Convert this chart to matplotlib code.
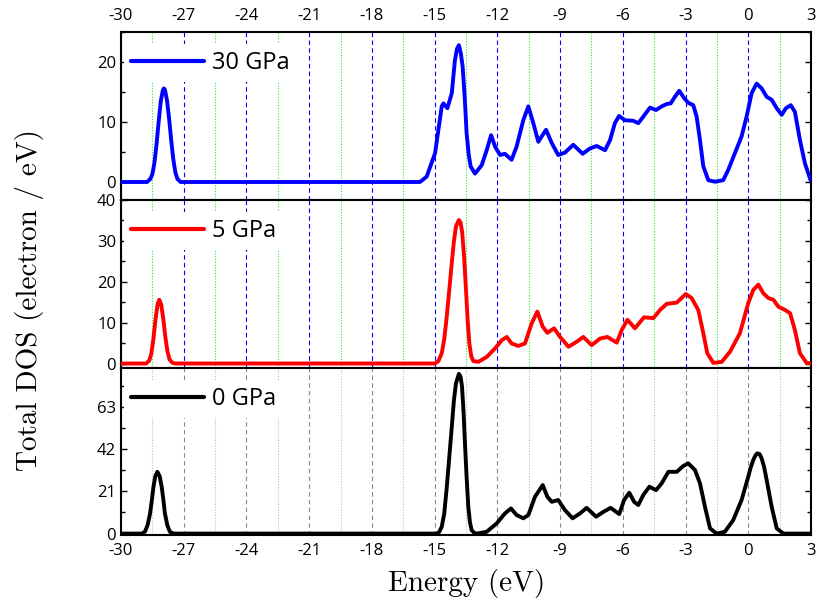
import matplotlib
matplotlib.use("Agg")
import matplotlib.pyplot as plt
from matplotlib.ticker import MultipleLocator
import numpy as np

plt.rcParams['font.family'] = ['Open Sans', 'DejaVu Sans']
plt.rcParams['axes.unicode_minus'] = False

# 30 GPa
energy_30 = [-30, -28.75, -28.6, -28.5, -28.4, -28.3, -28.2, -28.1, -28.0, -27.95, -27.9, -27.8,
             -27.7, -27.6, -27.5, -27.4, -27.3, -27.15,
             -15.7, -15.38, -14.98, -14.66, -14.58, -14.39, -14.18, -14.03, -13.93, -13.84,
             -13.75, -13.66, -13.56, -13.47, -13.37, -13.28, -13.07, -12.75, -12.51, -12.30,
             -12.11, -11.87, -11.64, -11.32,
             -11.08, -10.76, -10.52, -10.28, -10.04, -9.88, -9.67, -9.40, -9.09, -8.77, -8.37,
             -7.92, -7.57, -7.25, -6.85, -6.61, -6.38, -6.18, -5.90, -5.50, -5.26, -5.02, -4.70,
             -4.41, -4.14, -3.90, -3.71, -3.51, -3.30, -3.07, -2.87, -2.63, -2.47, -2.31, -2.15,
             -1.91, -1.59, -1.20, -0.96, -0.64, -0.32, -0.08, 0.16, 0.40, 0.64, 0.88, 1.12, 1.36,
             1.60, 1.80, 2.03, 2.23, 2.47, 2.71, 2.98, 3.0]
dos_30 = [0, 0, 0.5, 1.3, 3.2, 6.3, 10.0, 13.4, 15.3, 15.6, 15.4, 13.6,
          10.6, 7.0, 3.8, 1.6, 0.5, 0,
          0, 0.9, 4.8, 12.6, 13.1, 12.3, 14.8, 20.3, 22.2, 22.8,
          21.5, 19.2, 14.0, 8.1, 4.6, 2.6, 1.4, 2.8, 5.3, 7.8,
          5.9, 4.5, 4.7, 3.7,
          5.9, 10.3, 12.6, 9.8, 6.7, 7.6, 8.7, 6.5, 4.5, 4.9, 6.2,
          4.7, 5.6, 6.0, 5.3, 7.0, 9.8, 11.0, 10.3, 10.2, 9.8, 10.9, 12.4,
          12.0, 12.6, 13.0, 13.1, 14.2, 15.2, 14.0, 13.2, 12.8, 10.9, 7.0, 2.6,
          0.3, 0.05, 0.3, 2.0, 4.8, 7.6, 10.9, 14.8, 16.4, 15.6, 14.2, 13.7, 12.3,
          11.2, 12.3, 12.8, 11.7, 7.0, 3.1, 0.3, 0.2]

# 5 GPa
energy_5 = [-30, -28.8, -28.65, -28.55, -28.45, -28.35, -28.25, -28.17, -28.08, -27.98, -27.88,
            -27.78, -27.68, -27.55, -27.4,
            -14.98, -14.82, -14.66, -14.54, -14.42, -14.30, -14.18, -14.08, -13.98, -13.84,
            -13.76, -13.68, -13.59, -13.50, -13.42, -13.34, -13.25, -13.15,
            -12.91, -12.51, -12.11, -11.79, -11.55, -11.32, -11.00, -10.68, -10.36, -10.09,
            -9.83, -9.61, -9.29, -9.00, -8.60, -8.21, -7.89, -7.49, -7.09, -6.74, -6.29, -6.05,
            -5.78, -5.42, -4.99, -4.54, -4.22, -3.90, -3.42, -2.99, -2.71, -2.39, -2.15, -1.96,
            -1.67, -1.27, -0.87, -0.40, 0.00, 0.24, 0.48, 0.72, 0.96, 1.20, 1.44, 1.76, 2.00,
            2.23, 2.47, 2.79, 3.0]
dos_5 = [0, 0, 0.7, 2.4, 6.0, 10.8, 14.5, 15.6, 14.5, 11.0, 6.5,
         3.0, 1.0, 0.2, 0,
         0, 0.6, 2.5, 6.0, 11.5, 18.0, 24.6, 29.8, 33.6, 35.1,
         34.5, 32.0, 26.0, 18.0, 10.5, 4.9, 1.8, 0.6,
         0.4, 1.6, 3.7, 5.7, 6.5, 4.9, 4.3, 4.9, 9.8, 12.7,
         9.0, 7.5, 8.6, 6.5, 4.1, 5.3, 6.5, 4.5, 6.1, 6.5, 5.1, 8.2,
         10.7, 8.6, 11.3, 11.1, 13.1, 14.6, 14.9, 17.0, 16.0, 13.1, 7.4, 2.5,
         0.15, 0.4, 2.9, 7.4, 14.8, 18.0, 19.3, 17.2, 16.0, 15.6, 13.9, 13.1, 12.3,
         8.2, 2.5, 0.15, 0]

# 0 GPa
energy_0 = [-30, -29.0, -28.85, -28.72, -28.61, -28.52, -28.45, -28.36, -28.26, -28.15, -28.05,
            -27.97, -27.9, -27.78, -27.66, -27.5,
            -14.90, -14.78, -14.66, -14.54, -14.42, -14.30, -14.18, -14.08, -13.98, -13.84,
            -13.76, -13.69, -13.62, -13.55, -13.47, -13.39, -13.31, -13.23, -13.1, -12.99,
            -12.51, -12.03, -11.64, -11.35, -11.08, -10.76, -10.52, -10.20, -9.83,
            -9.61, -9.40, -9.09, -8.77, -8.40, -8.05, -7.73, -7.28, -6.93, -6.58, -6.17, -5.94,
            -5.69, -5.46, -5.26, -5.02, -4.73, -4.41, -4.14, -3.82, -3.42, -3.11, -2.87, -2.55,
            -2.31, -2.07, -1.83, -1.51, -1.12, -0.72, -0.32, 0.00, 0.12, 0.24, 0.34, 0.43, 0.54,
            0.64, 0.76, 0.88, 1.12, 1.36, 1.68, 3.0]
dos_0 = [0, 0, 1.0, 4.5, 10, 17, 23, 28.5, 30.7, 28.5, 23,
         16.5, 10, 4.0, 0.9, 0,
         0, 0.8, 3.4, 10, 23, 38, 53, 66, 74.7, 79.4,
         78, 73, 61, 44.9, 28, 13.3, 5.5, 1.7, 0.3, 0,
         0.9, 5.1, 10, 12.5, 9.2, 7.6, 9.2, 18.3, 24.1,
         18.3, 15.8, 16.7, 11.7, 7.6, 10.0, 12.8, 8.4, 10.8, 12.8, 9.7, 16.7,
         20.3, 15.8, 14.2, 19.2, 23.3, 21.6, 25, 30.7, 30.7, 33.6, 34.9, 31.6,
         25, 13.3, 2.6, 0, 0.9, 6.7, 16.7, 28.3, 33, 36.6, 38.8, 39.9, 39.5,
         37.4, 33, 26.6, 13.3, 2.6, 0, 0]

energy_ticks = np.arange(-30, 4, 3)

fig = plt.figure(figsize=(8.17, 6.05), dpi=100)
left, width = 121 / 817, 690 / 817
panels = [
    # (energy, dos, label, color, ylim, major, minor, grid colors, y range px)
    (energy_30, dos_30, '30 GPa', 'blue', (-3, 25), 10, 5, ('blue', '#33e033'), (32, 200)),
    (energy_5, dos_5, '5 GPa', 'red', (-1.1, 40), 10, 5, ('blue', '#33e033'), (200, 368)),
    (energy_0, dos_0, '0 GPa', 'black', (-0.7, 82.3), 21, 10.5, ('#888888', '#bbbbbb'), (368, 535)),
]

axes = []
for i, (en, dos, lab, col, ylim, maj, mnr, gcol, (ytop, ybot)) in enumerate(panels):
    ax = fig.add_axes([left, 1 - ybot / 605, width, (ybot - ytop) / 605])
    ax.plot(en, dos, color=col, lw=2.8, label=lab, solid_capstyle='round',
            solid_joinstyle='round', zorder=3)
    ax.set_xlim(-30, 3)
    ax.set_ylim(*ylim)
    ax.set_xticks(energy_ticks)
    ax.xaxis.set_minor_locator(MultipleLocator(1.5))
    ax.yaxis.set_major_locator(MultipleLocator(maj))
    ax.yaxis.set_minor_locator(MultipleLocator(mnr))
    ax.grid(which='major', axis='x', ls=(0, (4, 3)), color=gcol[0], lw=0.8)
    ax.grid(which='minor', axis='x', ls=(0, (1, 1.5)), color=gcol[1], lw=0.8)
    ax.tick_params(axis='x', which='both', length=0, labelsize=12, pad=6)
    ax.tick_params(axis='y', which='both', direction='in', left=True, right=True,
                   labelright=False, labelsize=12)
    ax.tick_params(axis='y', which='major', length=4, width=1)
    ax.tick_params(axis='y', which='minor', length=3, width=1)
    for s in ax.spines.values():
        s.set_linewidth(1.5)
    if i == 0:
        ax.xaxis.tick_top()
        ax.tick_params(axis='x', which='both', length=0)
    elif i == 1:
        ax.tick_params(axis='x', labelbottom=False)
    leg = ax.legend(loc='upper left', bbox_to_anchor=(0.004, 0.93), borderaxespad=0,
                    frameon=True, fancybox=False, edgecolor='none', facecolor='white',
                    framealpha=1, handlelength=3.1, handletextpad=0.35, fontsize=17,
                    borderpad=0.3)
    leg.set_zorder(5)
    for h in leg.get_lines():
        h.set_linewidth(3)
    axes.append(ax)

fig.text(30 / 817, 0.504, 'Total DOS (electron / eV)', family='cmr10', fontsize=21,
         rotation=90, ha='center', va='center')
fig.text(467 / 817, 0.036, 'Energy (eV)', family='cmr10', fontsize=21,
         ha='center', va='center')

fig.savefig('out.png', dpi=100)
